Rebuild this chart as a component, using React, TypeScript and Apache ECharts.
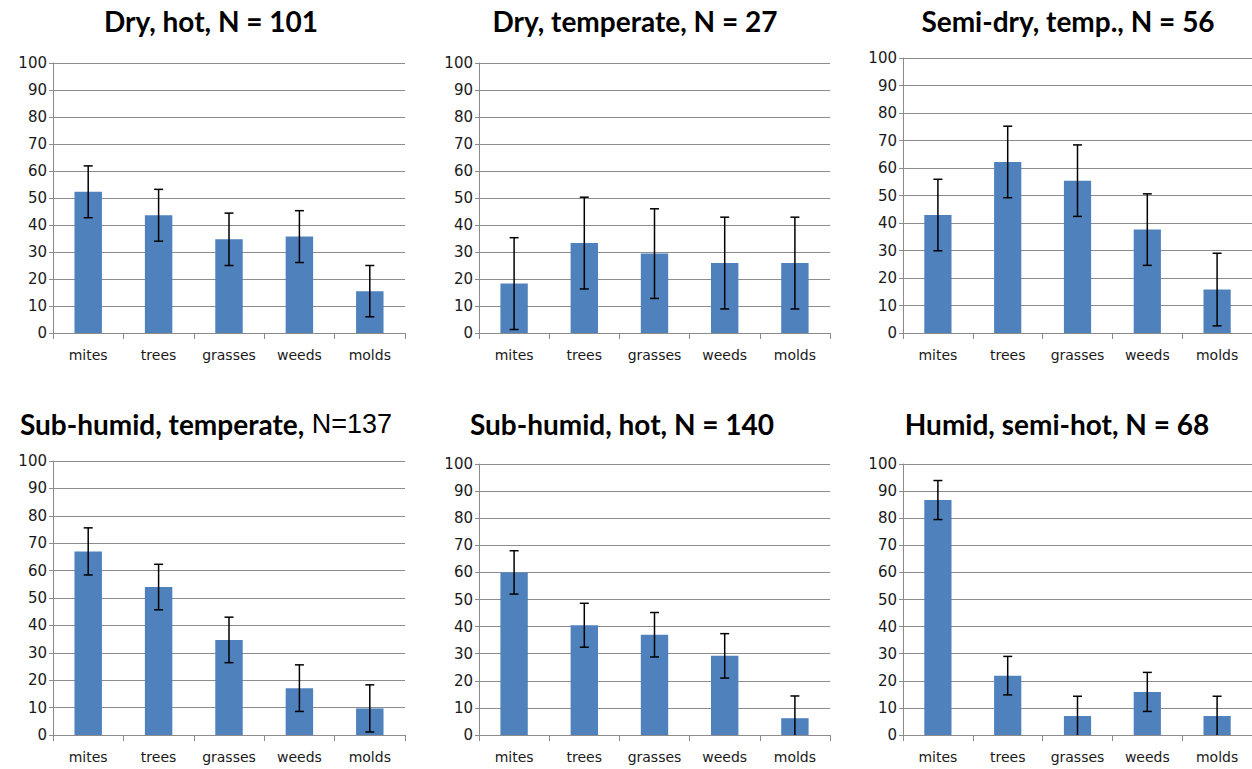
import React, { useEffect, useRef } from "react";
import * as echarts from "echarts";

const categories = ["mites", "trees", "grasses", "weeds", "molds"];
const yTicks = [0, 10, 20, 30, 40, 50, 60, 70, 80, 90, 100];

const dryHotMeans = [52.3, 43.6, 34.7, 35.7, 15.5];
const dryHotErr = [9.6, 9.6, 9.7, 9.6, 9.5];
const dryTempMeans = [18.3, 33.3, 29.4, 25.9, 25.9];
const dryTempErr = [17.0, 17.0, 16.6, 17.0, 17.0];
const semiDryMeans = [42.9, 62.2, 55.4, 37.6, 15.8];
const semiDryErr = [13.0, 13.0, 13.0, 13.0, 13.2];
const subHumidTempMeans = [67.0, 54.0, 34.7, 17.1, 9.7];
const subHumidTempErr = [8.6, 8.3, 8.3, 8.5, 8.6];
const subHumidHotMeans = [60.0, 40.5, 37.0, 29.2, 6.2];
const subHumidHotErr = [8.0, 8.1, 8.2, 8.2, 8.2];
const humidMeans = [86.7, 21.9, 7.0, 15.9, 7.0];
const humidErr = [7.2, 7.1, 7.3, 7.2, 7.3];

const panelMeans = [dryHotMeans, dryTempMeans, semiDryMeans, subHumidTempMeans, subHumidHotMeans, humidMeans];
const panelErrs = [dryHotErr, dryTempErr, semiDryErr, subHumidTempErr, subHumidHotErr, humidErr];

// layout (px)
const grids = [
  { left: 53, top: 63, width: 352, height: 270 },
  { left: 479, top: 63, width: 351, height: 270 },
  { left: 903, top: 58, width: 352, height: 275 },
  { left: 53, top: 461, width: 352, height: 274 },
  { left: 479, top: 464, width: 351, height: 271 },
  { left: 903, top: 464, width: 352, height: 271 },
];

const titleFont = "Lato, 'Open Sans', sans-serif";
const BAR = "#4F81BD";
const GRID = "#8c8c8c";
const LABEL = "#1a1a1a";

export default function App() {
  const ref = useRef<HTMLDivElement>(null);
  useEffect(() => {
    document.body.style.margin = "0";
    const chart = echarts.init(ref.current!, undefined, { renderer: "svg" });

    const xAxes = grids.map((_, i) => ({
      type: "category",
      gridIndex: i,
      data: categories,
      axisLine: { lineStyle: { color: GRID, width: 1 } },
      axisTick: { show: true, alignWithLabel: false, length: 6, lineStyle: { color: GRID } },
      axisLabel: { color: LABEL, fontSize: 14, fontFamily: "DejaVu Sans", margin: 15, interval: 0, hideOverlap: false },
      splitLine: { show: false },
    }));
    const yAxes = grids.map((_, i) => ({
      type: "value",
      gridIndex: i,
      min: yTicks[0],
      max: yTicks[yTicks.length - 1],
      interval: yTicks[1] - yTicks[0],
      axisLine: { show: true, lineStyle: { color: GRID, width: 1 } },
      axisTick: { show: true, length: 4, lineStyle: { color: GRID } },
      axisLabel: { color: LABEL, fontSize: 15, fontFamily: "DejaVu Sans", margin: 6 },
      splitLine: { show: true, lineStyle: { color: GRID, width: 1 } },
    }));

    const series: any[] = [];
    panelMeans.forEach((means, i) => {
      const errs = panelErrs[i];
      series.push({
        type: "bar",
        xAxisIndex: i,
        yAxisIndex: i,
        data: means,
        barWidth: "39%",
        itemStyle: { color: BAR },
        z: 2,
      });
      series.push({
        type: "custom",
        xAxisIndex: i,
        yAxisIndex: i,
        z: 5,
        encode: { x: 0, y: [1, 2] },
        data: means.map((m, j) => [j, Math.max(0, m - errs[j]), m + errs[j], m - errs[j] > 0 ? 1 : 0]),
        renderItem: (params: any, api: any) => {
          const x = api.value(0);
          const lo = api.value(1);
          const hi = api.value(2);
          const cap = api.value(3);
          const pHi = api.coord([x, hi]);
          const pLo = api.coord([x, lo]);
          const hw = 4.5;
          const st = { stroke: "#000", lineWidth: 1.5 };
          const children: any[] = [
            { type: "line", shape: { x1: pHi[0], y1: pHi[1], x2: pLo[0], y2: pLo[1] }, style: st },
            { type: "line", shape: { x1: pHi[0] - hw, y1: pHi[1], x2: pHi[0] + hw, y2: pHi[1] }, style: st },
          ];
          if (cap) {
            children.push({ type: "line", shape: { x1: pLo[0] - hw, y1: pLo[1], x2: pLo[0] + hw, y2: pLo[1] }, style: st });
          }
          return { type: "group", children };
        },
      });
    });

    const titleStyle = (text: string) => ({
      text,
      fontFamily: titleFont,
      fontWeight: "bold",
      fontSize: 28,
      fill: "#000",
      textAlign: "center",
      textVerticalAlign: "middle",
    });

    const graphic: any[] = [
      { type: "text", x: 211, y: 21, style: titleStyle("Dry, hot, N = 101") },
      { type: "text", x: 635, y: 21, style: titleStyle("Dry, temperate, N = 27") },
      { type: "text", x: 1068, y: 21, style: titleStyle("Semi-dry, temp., N = 56") },
      {
        type: "text",
        x: 206,
        y: 424,
        style: {
          text: "{b|Sub-humid, temperate,}{n| N=137}",
          textAlign: "center",
          textVerticalAlign: "middle",
          rich: {
            b: { fontFamily: titleFont, fontWeight: "bold", fontSize: 28, fill: "#000", color: "#000" },
            n: { fontFamily: "'Liberation Sans', Arial, sans-serif", fontWeight: "normal", fontSize: 27, fill: "#000", color: "#000" },
          },
        },
      },
      { type: "text", x: 622, y: 424, style: titleStyle("Sub-humid, hot, N = 140") },
      { type: "text", x: 1057, y: 424, style: titleStyle("Humid, semi-hot, N = 68") },
    ];

    chart.setOption({
      animation: false,
      backgroundColor: "#fff",
      grid: grids.map((g) => ({ ...g, containLabel: false })),
      xAxis: xAxes,
      yAxis: yAxes,
      series,
      graphic,
    });
    return () => chart.dispose();
  }, []);
  return <div ref={ref} style={{ width: 1252, height: 769 }} />;
}
